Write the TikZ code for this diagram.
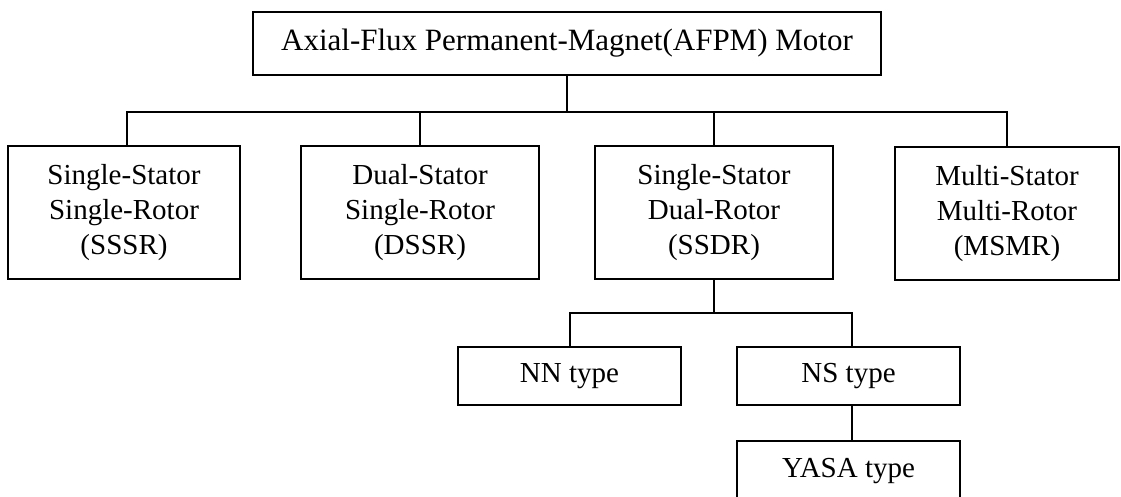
\documentclass[tikz,border=0pt]{standalone}
\usepackage{fontspec}
\setmainfont{Liberation Serif}
\begin{document}
\begin{tikzpicture}[x=1pt,y=-1pt,
  box/.style={draw=black,line width=2pt,inner sep=0pt,align=center,anchor=center},
  link/.style={draw=black,line width=2pt},
  big/.style={font=\fontsize{31}{35}\selectfont},
  mid/.style={font=\fontsize{29}{35}\selectfont}]
\useasboundingbox (0,0) rectangle (1121,497);
\clip (0,0) rectangle (1121,497);
\node[box,big,minimum width=628pt,minimum height=63pt] (top) at (567,43.5) {Axial-Flux Permanent-Magnet(AFPM) Motor};
\node[box,mid,minimum width=232pt,minimum height=133pt] (b1) at (124,212.5) {Single-Stator\\Single-Rotor\\(SSSR)};
\node[box,mid,minimum width=238pt,minimum height=133pt] (b2) at (420,212.5) {Dual-Stator\\Single-Rotor\\(DSSR)};
\node[box,mid,minimum width=238pt,minimum height=133pt] (b3) at (714,212.5) {Single-Stator\\Dual-Rotor\\(SSDR)};
\node[box,mid,minimum width=224pt,minimum height=133pt] (b4) at (1007,213.5) {Multi-Stator\\Multi-Rotor\\(MSMR)};
\node[box,mid,minimum width=223pt,minimum height=58pt] (nn) at (569.5,376) {NN type};
\node[box,mid,minimum width=223pt,minimum height=58pt] (ns) at (848.5,376) {NS type};
\node[box,mid,minimum width=223pt,minimum height=60pt] (yasa) at (848.5,471) {YASA type};
\coordinate (j1) at (567,112);
\coordinate (j2) at (714,313);
\draw[link] (top.south) -- (j1);
\draw[link] ([xshift=3pt]b1.north) |- (j1) -| (b4.north);
\draw[link] (b2.north) -- (b2.north |- j1);
\draw[link] (b3.north) -- (b3.north |- j1);
\draw[link] (b3.south) -- (j2);
\draw[link] (nn.north) |- (j2) -| ([xshift=3.5pt]ns.north);
\draw[link] ([xshift=3.5pt]ns.south) -- ([xshift=3.5pt]yasa.north);
\end{tikzpicture}
\end{document}
